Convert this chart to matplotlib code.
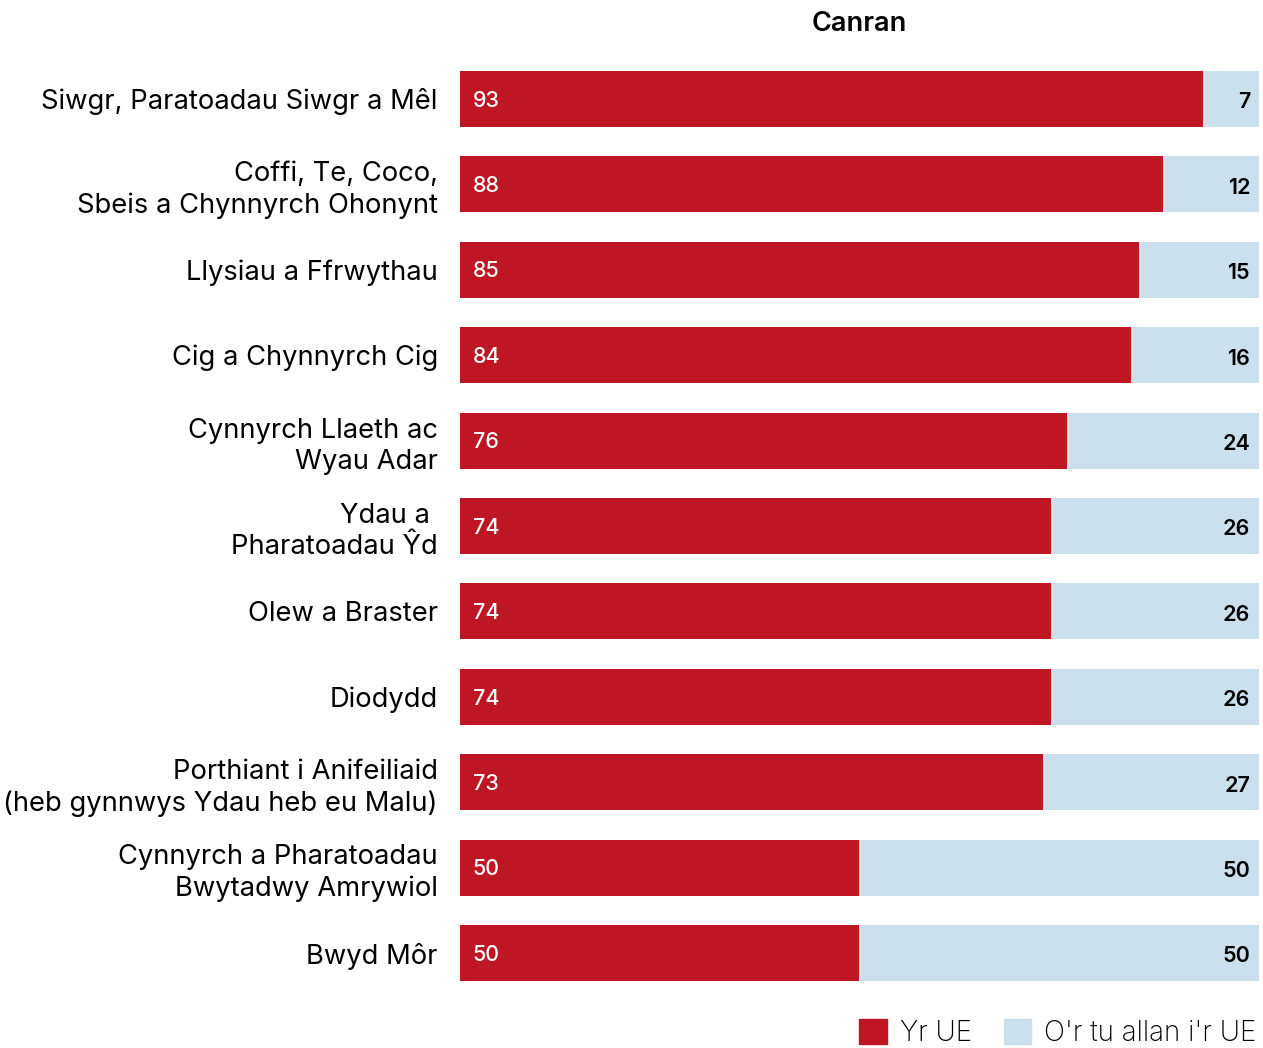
import matplotlib
matplotlib.use('Agg')
import matplotlib.pyplot as plt
from matplotlib.patches import Patch

plt.rcParams['font.family'] = ['Inter', 'DejaVu Sans']

# data
categories = ['Siwgr, Paratoadau Siwgr a Mêl',
              'Coffi, Te, Coco,\nSbeis a Chynnyrch Ohonynt',
              'Llysiau a Ffrwythau',
              'Cig a Chynnyrch Cig',
              'Cynnyrch Llaeth ac\nWyau Adar',
              'Ydau a \nPharatoadau Ŷd',
              'Olew a Braster',
              'Diodydd',
              'Porthiant i Anifeiliaid\n(heb gynnwys Ydau heb eu Malu)',
              'Cynnyrch a Pharatoadau\nBwytadwy Amrywiol',
              'Bwyd Môr']
eu = [93, 88, 85, 84, 76, 74, 74, 74, 73, 50, 50]
non_eu = [7, 12, 15, 16, 24, 26, 26, 26, 27, 50, 50]

red = '#BE1622'
blue = '#CCDFEC'

fig = plt.figure(figsize=(12.63, 10.48), dpi=100)
ax = fig.add_axes([0.3642, 0.0499, 0.6326, 0.8964])

y = list(range(len(categories)))
ax.barh(y, eu, height=0.656, color=red)
ax.barh(y, non_eu, left=eu, height=0.656, color=blue)

# value labels
for i in y:
    ax.text(1.6, i + 0.02, str(eu[i]), color='white', fontsize=15.5,
            fontweight='medium', va='center', ha='left')
    ax.text(98.9, i + 0.04, str(non_eu[i]), color='black', fontsize=15.5,
            fontweight='semibold', va='center', ha='right')

ax.set_yticks(y)
ax.set_yticklabels(categories, fontsize=19.7, linespacing=1.25)
ax.tick_params(axis='y', length=0, pad=16)
ax.set_xticks([])
ax.set_xlim(0, 100)
ax.set_ylim(len(categories) - 0.5, -0.5)
for s in ax.spines.values():
    s.set_visible(False)

ax.set_title('Canran', fontsize=19.5, fontweight='semibold', pad=18)

handles = [Patch(color=red, label='Yr UE'),
           Patch(color=blue, label="O'r tu allan i'r UE")]
fig.legend(handles=handles, loc='lower right', bbox_to_anchor=(1.0145, -0.023),
           ncol=2, frameon=False, handlelength=1.0,
           handleheight=1.0, handletextpad=0.45, columnspacing=1.15,
           prop={'size': 20, 'weight': 'light'})

fig.savefig('out.png', dpi=100)
